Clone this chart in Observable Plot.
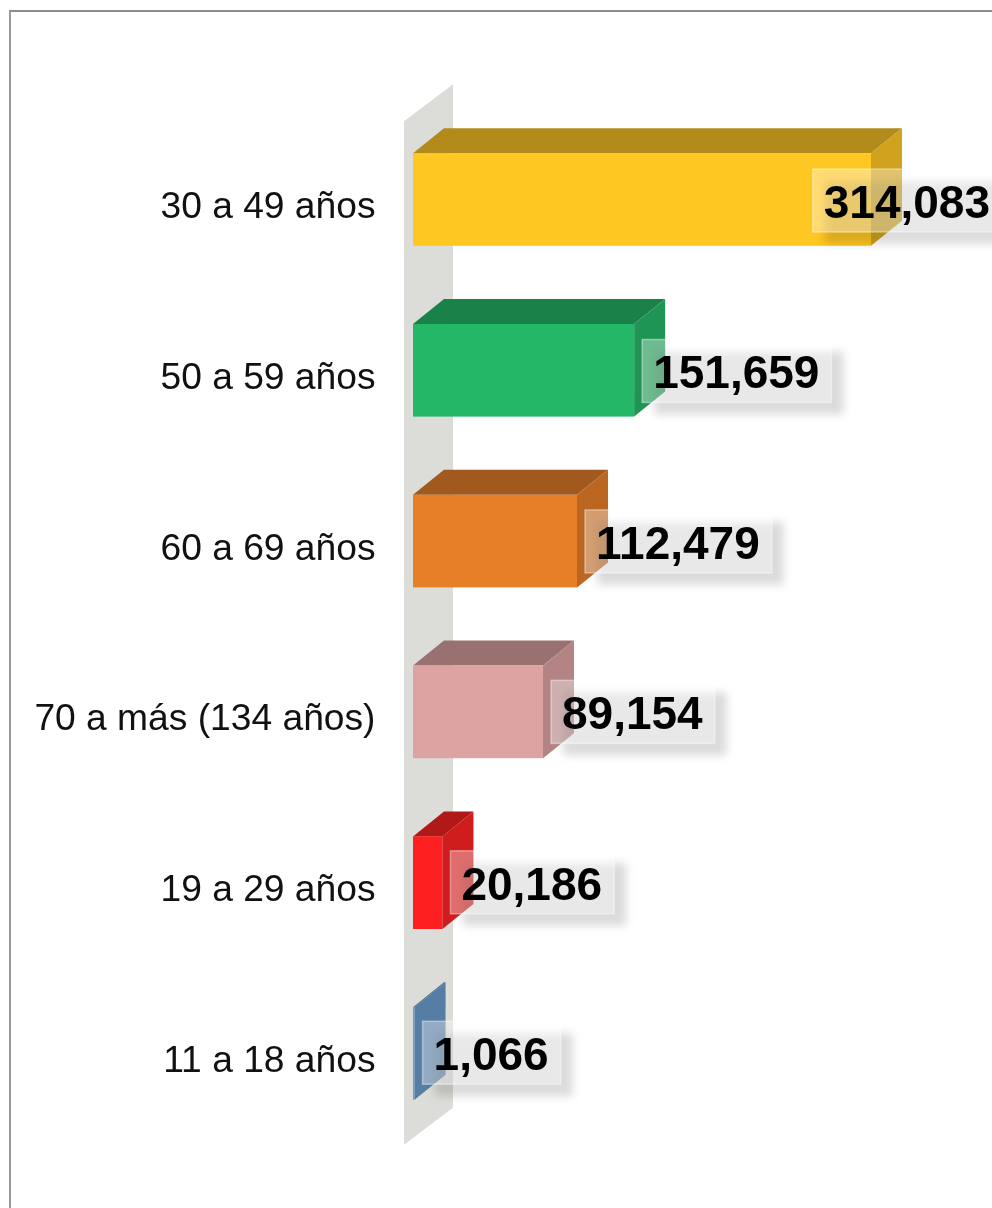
<!DOCTYPE html>
<html>
<head>
<meta charset="utf-8">
<script src="https://cdn.jsdelivr.net/npm/d3@7"></script>
<script src="https://cdn.jsdelivr.net/npm/@observablehq/plot@0.6"></script>
<style>
html,body{margin:0;padding:0;background:#fff;overflow:hidden;width:992px;height:1208px}
#frame{position:absolute;left:9px;top:10px;width:1100px;height:1300px;border-left:2px solid #999;border-top:2px solid #8c8c8c;pointer-events:none}
#chart{position:absolute;left:0;top:0;filter:blur(.45px)}
#chart svg{display:block;background:transparent}
</style>
</head>
<body>
<div id="chart"></div>
<div id="frame"></div>
<script>
const categories = ["30 a 49 años","50 a 59 años","60 a 69 años","70 a más (134 años)","19 a 29 años","11 a 18 años"];
const values = [314083,151659,112479,89154,20186,1066];
const colors = ["#ffc61e","#1fb664","#e67c24","#dca0a0","#fe1c1c","#6697c7"];
const rows = categories.map((category,i)=>({category,value:values[i],color:colors[i]}));

const W = 992, H = 1208;
const DX = 31, DY = -25;
const fmt = d3.format(",");
const FONT_SIZE = 46, PAD = 11;
const ctx = document.createElement("canvas").getContext("2d");
ctx.font = `bold ${FONT_SIZE}px "Liberation Sans"`;

const svgEl = (name,attrs,parent)=>{
  const el = document.createElementNS("http://www.w3.org/2000/svg",name);
  for (const k in attrs) el.setAttribute(k,attrs[k]);
  if (parent) parent.appendChild(el);
  return el;
};
const shade = (c,k)=>{const r=d3.rgb(c);return d3.rgb(r.r*k,r.g*k,r.b*k).formatHex();};
const poly = (pts)=>pts.map(p=>p.join(",")).join(" ");
const bandOf = (y)=> typeof y.bandwidth === "function" ? y.bandwidth() : y.bandwidth;

function wallMark(index,{x,y}){
  const g = svgEl("g",{});
  const bw = bandOf(y);
  const top = y(categories[0]), bot = y(categories[categories.length-1])+bw;
  const x0 = x(0)-9, x1 = x(0)+40;
  svgEl("polygon",{points:poly([[x0,top-32],[x1,top-69],[x1,bot+8],[x0,bot+45]]),fill:"#dcdcd8"},g);
  return g;
}
function depthMark(index,{x,y}){
  const g = svgEl("g",{});
  const bw = bandOf(y);
  for (const d of rows){
    const x0=x(0), x1=x(d.value), t=y(d.category), b=t+bw;
    svgEl("polygon",{points:poly([[x0,t],[x0+DX,t+DY],[x1+DX,t+DY],[x1,t]]),fill:shade(d.color,.69),"fill-opacity":.98},g);
    svgEl("polygon",{points:poly([[x1,t],[x1+DX,t+DY],[x1+DX,b+DY],[x1,b]]),fill:shade(d.color,.81),"fill-opacity":.98},g);
  }
  return g;
}
function labelMark(index,{x,y}){
  const g = svgEl("g",{"text-anchor":"start"});
  const defs = svgEl("defs",{},g);
  const f = svgEl("filter",{id:"sh",x:"-20%",y:"-30%",width:"140%",height:"160%"},defs);
  svgEl("feGaussianBlur",{stdDeviation:4.5},f);
  const bw = bandOf(y);
  rows.forEach((d,i)=>{
    const s = fmt(d.value), tw = ctx.measureText(s).width;
    const bwid = tw+2*PAD+1, bh = 63;
    const left = Math.min(x(d.value)+8, W-2-PAD-tw);
    const top = y(d.category)+bw/2-bh/2+1-i*0.35;
    svgEl("rect",{x:left+12,y:top+12,width:bwid,height:bh,fill:"#000","fill-opacity":.14,filter:"url(#sh)"},g);
    svgEl("rect",{x:left,y:top,width:bwid,height:bh,fill:"#fff","fill-opacity":.36,stroke:"#fff","stroke-opacity":.4,"stroke-width":1.5},g);
    const t = svgEl("text",{x:left+PAD,y:top+bh/2+17.5,"text-anchor":"start","font-family":"'Liberation Sans',Arial,sans-serif","font-weight":"bold","font-size":FONT_SIZE,fill:"#000"},g);
    t.textContent = s;
  });
  return g;
}

const chart = Plot.plot({
  width: W, height: H,
  marginLeft: 413, marginRight: 0, marginTop: 0, marginBottom: 0,
  x: {domain:[0,314083], range:[413,871], axis:null},
  y: {domain:categories, range:[75,1178], padding:.458, round:false, label:null},
  color: {type:"identity"},
  style: {background:"transparent", fontFamily:"'Liberation Sans',Arial,sans-serif", overflow:"visible"},
  marks: [
    wallMark,
    depthMark,
    Plot.barX(rows,{x:"value",y:"category",fill:"color",fillOpacity:.98}),
    Plot.axisY({tickSize:0,tickPadding:38,fontSize:37.2,dy:6,fill:"#111",label:null}),
    labelMark
  ]
});
document.getElementById("chart").appendChild(chart);
</script>
</body>
</html>
